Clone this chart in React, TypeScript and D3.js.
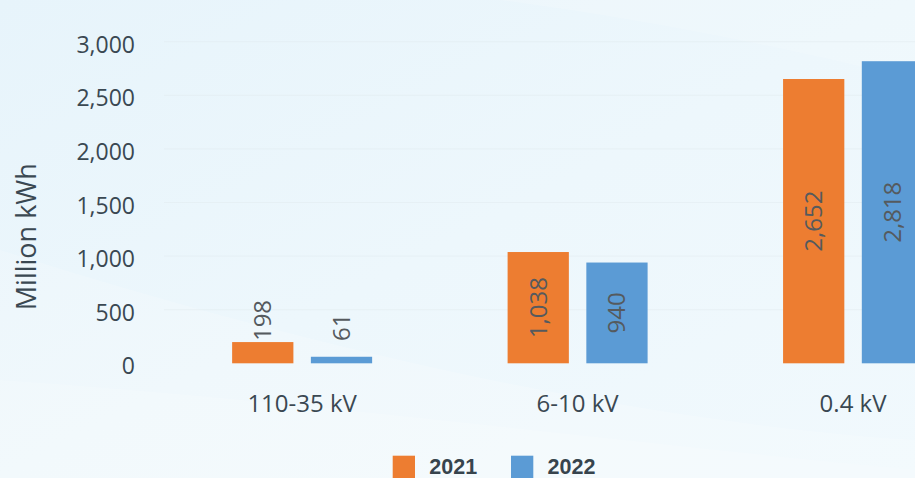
import React from "react";
import * as d3 from "d3";

const categories = ["110-35 kV", "6-10 kV", "0.4 kV"];
const seriesNames = ["2021", "2022"];
const values2021 = [198, 1038, 2652];
const values2022 = [61, 940, 2818];
const yTicks = [0, 500, 1000, 1500, 2000, 2500, 3000];
const colors = ["#ED7D31", "#5B9BD5"];

const W = 915;
const H = 478;

export default function App() {
  const y = d3.scaleLinear().domain([0, 3000]).range([363.3, 41.7]);
  const x0 = d3.scaleBand<string>().domain(categories).range([164.4, 990.8]).padding(0);
  const bw = x0.bandwidth();
  const x1 = d3
    .scaleBand<string>()
    .domain(seriesNames)
    .range([bw / 2 - 70, bw / 2 + 70])
    .paddingInner(0.222)
    .paddingOuter(0);
  const series = [values2021, values2022];
  const fmt = d3.format(",");
  const textColor = "#3a4852";

  const bars: any[] = [];
  categories.forEach((c, i) => {
    const groupMax = Math.max(...series.map((s) => s[i]));
    seriesNames.forEach((s, j) => {
      const v = series[j][i];
      bars.push({ c, s, v, j, groupMax });
    });
  });

  return (
    <div style={{ position: "absolute", left: 0, top: 0 }}>
      <svg width={W} height={H} style={{ display: "block", overflow: "hidden" }}>
        <defs>
          <linearGradient id="bg" x1="0" y1="0" x2="1" y2="1">
            <stop offset="0" stopColor="#e7f4fb" />
            <stop offset="0.5" stopColor="#edf7fc" />
            <stop offset="1" stopColor="#f1f9fd" />
          </linearGradient>
        </defs>
        <rect width={W} height={H} fill="url(#bg)" />
        <path d="M0,250 C250,330 600,420 915,440 L915,478 L0,478 Z" fill="#ffffff" opacity={0.18} />
        <path d="M0,380 C300,400 600,440 915,470 L915,478 L0,478 Z" fill="#ffffff" opacity={0.15} />
        <path d="M500,0 C650,20 800,50 915,80 L915,0 Z" fill="#ffffff" opacity={0.15} />

        {yTicks.filter((t) => t > 0).map((t) => (
          <line key={"g" + t} x1={164} x2={W} y1={y(t)} y2={y(t)} stroke="#dfe8ec" strokeWidth={1} opacity={0.4} />
        ))}

        {yTicks.map((t) => (
          <text
            key={"t" + t}
            x={135}
            y={y(t) + 3}
            dy="0.35em"
            textAnchor="end"
            fontFamily="'Open Sans', sans-serif"
            fontSize={23}
            fill={textColor}
          >
            {fmt(t)}
          </text>
        ))}

        <text
          transform={`translate(36,236.7) rotate(-90)`}
          textAnchor="middle"
          fontFamily="'Open Sans', sans-serif"
          fontSize={27}
          fill={textColor}
        >
          Million kWh
        </text>

        {bars.map((b) => {
          const bx = (x0(b.c) as number) + (x1(b.s) as number);
          const w = x1.bandwidth();
          const top = y(b.v);
          const h = y(0) - top;
          const cx = bx + w / 2;
          const inside = h > 70;
          return (
            <g key={b.c + b.s}>
              <rect x={bx} y={top} width={w} height={h} fill={colors[b.j]} />
              {inside ? (
                <text
                  transform={`translate(${cx},${top + h / 2}) rotate(-90)`}
                  textAnchor="middle"
                  dy="0.35em"
                  fontFamily="'Open Sans', sans-serif"
                  fontSize={24}
                  fill="#555a5e"
                >
                  {fmt(b.v)}
                </text>
              ) : (
                <text
                  transform={`translate(${cx},${y(b.groupMax) - 1}) rotate(-90)`}
                  textAnchor="start"
                  dy="0.35em"
                  fontFamily="'Open Sans', sans-serif"
                  fontSize={24}
                  fill="#555a5e"
                >
                  {fmt(b.v)}
                </text>
              )}
            </g>
          );
        })}

        {categories.map((c) => (
          <text
            key={"c" + c}
            x={(x0(c) as number) + bw / 2}
            y={412}
            textAnchor="middle"
            fontFamily="'Open Sans', sans-serif"
            fontSize={24}
            fill={textColor}
          >
            {c}
          </text>
        ))}

        {seriesNames.map((s, j) => (
          <g key={"l" + s} transform={`translate(${392.7 + j * 118.3},455.7)`}>
            <rect width={22.3} height={22.3} fill={colors[j]} />
            <text
              x={36.6}
              y={17.8}
              fontFamily="'Liberation Sans', Arial, sans-serif"
              fontWeight="bold"
              fontSize={21.5}
              fill="#37444d"
            >
              {s}
            </text>
          </g>
        ))}
      </svg>
    </div>
  );
}
